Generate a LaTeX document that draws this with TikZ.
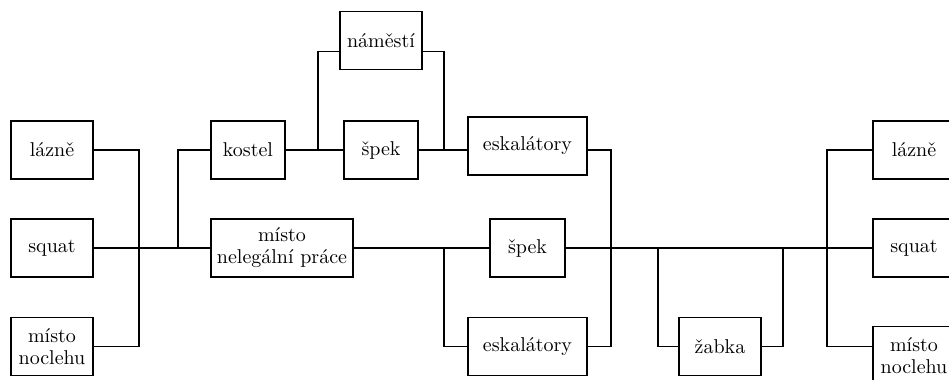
\documentclass[tikz,border=0pt]{standalone}
\usepackage{tikz}
\begin{document}
\begin{tikzpicture}[
  x=0.5pt, y=-0.5pt,
  line width=0.8pt,
  bnode/.style={draw,rectangle,minimum height=29pt,inner sep=0pt,align=center,
    font=\fontsize{10}{11}\selectfont}
]
  \useasboundingbox (0,0) rectangle (949,380);

  % left places
  \node[bnode,minimum width=41pt] (lazne1) at (52,150) {lázně};
  \node[bnode,minimum width=41pt] (squat1) at (52,248) {squat};
  \node[bnode,minimum width=41pt] (nocleh1) at (52,346.5) {místo\\noclehu};

  % upper and middle route
  \node[bnode,minimum width=37pt] (kostel) at (248,150) {kostel};
  \node[bnode,minimum width=71pt] (prace) at (282,248) {místo\\nelegální práce};
  \node[bnode,minimum width=41pt] (namesti) at (381,40.5) {náměstí};
  \node[bnode,minimum width=37pt] (spek1) at (381,150) {špek};
  \node[bnode,minimum width=59.5pt] (eskal1) at (527.5,146) {eskalátory};
  \node[bnode,minimum width=37.5pt] (spek2) at (527.5,248) {špek};
  \node[bnode,minimum width=59.5pt] (eskal2) at (527.5,346.5) {eskalátory};
  \node[bnode,minimum width=41pt] (zabka) at (720,346.5) {žabka};

  % right places
  \node[bnode,minimum width=41pt] (lazne2) at (914,150) {lázně};
  \node[bnode,minimum width=41pt] (squat2) at (914,248) {squat};
  \node[bnode,minimum width=41pt] (nocleh2) at (914,355.5) {místo\\noclehu};

  % junctions
  \coordinate (j1) at (139,248);
  \coordinate (j2) at (178,248);
  \coordinate (j3) at (318,150);
  \coordinate (j4) at (444,150);
  \coordinate (j5) at (611,248);
  \coordinate (j6) at (444,248);
  \coordinate (j7) at (658,248);
  \coordinate (j8) at (783,248);
  \coordinate (j9) at (827,248);
  \coordinate (n1) at ([yshift=-5.5pt]namesti.west);
  \coordinate (n2) at ([yshift=-5.5pt]namesti.east);

  % connectors
  \draw (lazne1.east) -| (j1) |- (nocleh1.east);
  \draw (squat1.east) -- (prace.west);
  \draw (kostel.west) -| (j2);
  \draw (kostel.east) -- (spek1.west);
  \draw (n1) -| (j3);
  \draw (n2) -| (j4);
  \draw (spek1.east) -- (spek1.east -| eskal1.west);
  \draw (spek1.east -| eskal1.east) -| (j5) |- (eskal2.east);
  \draw (prace.east) -- (spek2.west);
  \draw (j6) |- (eskal2.west);
  \draw (spek2.east) -- (squat2.west);
  \draw (j7) |- (zabka.west);
  \draw (zabka.east) -| (j8);
  \draw (lazne2.west) -| (j9) |- (nocleh1.east -| nocleh2.west);

\end{tikzpicture}
\end{document}
